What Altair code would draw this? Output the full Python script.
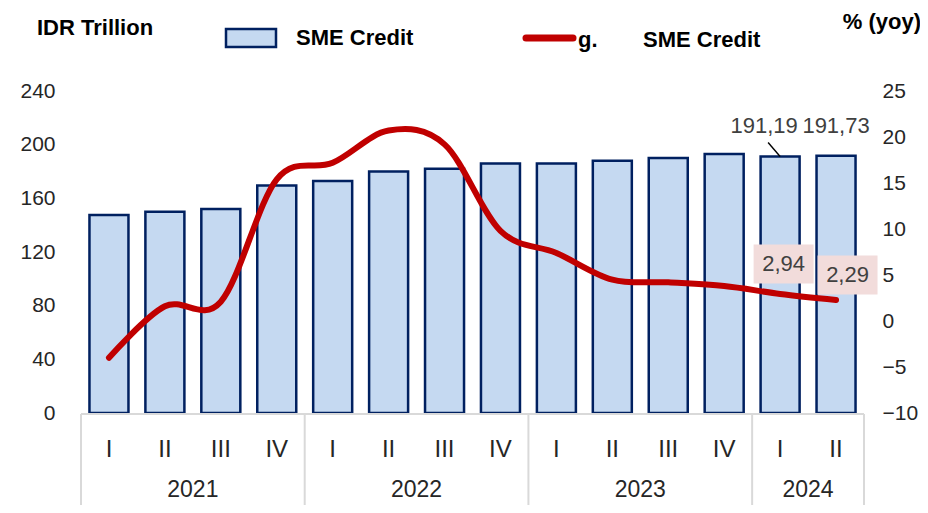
import altair as alt
import pandas as pd

# ---- data ----
years = ["2021"] * 4 + ["2022"] * 4 + ["2023"] * 4 + ["2024"] * 2
quarters = ["I", "II", "III", "IV"] * 3 + ["I", "II"]
sme_credit = [147.5, 150.0, 152.0, 169.5, 173.0, 180.0, 182.0, 186.0,
              186.0, 188.0, 190.0, 193.0, 191.19, 191.73]
growth = [-4.0, 1.6, 2.1, 15.4, 17.2, 20.7, 19.2, 9.8,
          7.4, 4.5, 4.2, 3.8, 2.94, 2.29]
left_ticks = [0, 40, 80, 120, 160, 200, 240]
right_ticks = [-10, -5, 0, 5, 10, 15, 20, 25]

FONT = "Liberation Sans"
TXT = "#262626"

df = pd.DataFrame({
    "idx": list(range(len(years))),
    "year": years,
    "quarter": quarters,
    "credit": sme_credit,
    "growth": growth,
})
df["credit_lbl"] = df["credit"].map(lambda v: f"{v:.2f}".replace(".", ","))
df["growth_lbl"] = df["growth"].map(lambda v: f"{v:.2f}".replace(".", ","))

# year boundaries for the category separators
first_idx = df.groupby("year", sort=False)["idx"].min().tolist()
bounds = [i - 0.5 for i in first_idx] + [df["idx"].max() + 0.5]
bounds_df = pd.DataFrame({"pos": bounds})
axis_df = pd.DataFrame({"lo": [df["idx"].min() - 0.5], "hi": [df["idx"].max() + 0.5]})

xscale = alt.Scale(domain=[-0.5, len(years) - 0.5], nice=False, zero=False)
yl_scale = alt.Scale(domain=[0, 240], nice=False, zero=False)
yr_scale = alt.Scale(domain=[-10, 25], nice=False, zero=False)
X = alt.X("idx:Q", scale=xscale, axis=None)

base = alt.Chart(df)

bars = base.mark_bar(width=39, fill="#C5D9F1", stroke="#002060", strokeWidth=2.5).encode(
    x=X,
    y=alt.Y("credit:Q", scale=yl_scale,
            axis=alt.Axis(orient="left", values=left_ticks, title=None, grid=False,
                          domain=False, ticks=False, labelPadding=21,
                          labelFont=FONT, labelFontSize=21, labelColor=TXT)),
)

leader = base.transform_filter(alt.datum.idx == 12).mark_rule(
    color="#000000", strokeWidth=1.4, xOffset=-12, yOffset=-14, x2Offset=0, y2Offset=0
).encode(
    x=X, x2="idx:Q",
    y=alt.Y("credit:Q", scale=yl_scale, axis=None), y2="credit:Q",
)

lbl_a = base.transform_filter(alt.datum.idx == 12).mark_text(
    font=FONT, fontSize=22, color="#404040", dx=-16, dy=-30, baseline="middle"
).encode(x=X, y=alt.Y("credit:Q", scale=yl_scale, axis=None), text="credit_lbl:N")

lbl_b = base.transform_filter(alt.datum.idx == 13).mark_text(
    font=FONT, fontSize=22, color="#404040", dx=0, dy=-30, baseline="middle"
).encode(x=X, y=alt.Y("credit:Q", scale=yl_scale, axis=None), text="credit_lbl:N")

line = base.mark_line(interpolate="cardinal", color="#C00000", strokeWidth=6,
                      strokeCap="round").encode(
    x=X,
    y=alt.Y("growth:Q", scale=yr_scale,
            axis=alt.Axis(orient="right", values=right_ticks, title=None, grid=False,
                          domain=False, ticks=False, labelPadding=13,
                          labelFont=FONT, labelFontSize=21, labelColor=TXT)),
)

BOX = "M-1,-0.65L1,-0.65L1,0.65L-1,0.65Z"
box_a = base.transform_filter(alt.datum.idx == 12).mark_point(
    shape=BOX, size=3600, filled=True, color="#F2DCDB", opacity=1, strokeWidth=0,
    xOffset=3.5, yOffset=-30
).encode(x=X, y=alt.Y("growth:Q", scale=yr_scale, axis=None))
box_b = base.transform_filter(alt.datum.idx == 13).mark_point(
    shape=BOX, size=3600, filled=True, color="#F2DCDB", opacity=1, strokeWidth=0,
    xOffset=11.5, yOffset=-25
).encode(x=X, y=alt.Y("growth:Q", scale=yr_scale, axis=None))
gl_a = base.transform_filter(alt.datum.idx == 12).mark_text(
    font=FONT, fontSize=22, color="#404040", dx=3.5, dy=-30, baseline="middle"
).encode(x=X, y=alt.Y("growth:Q", scale=yr_scale, axis=None), text="growth_lbl:N")
gl_b = base.transform_filter(alt.datum.idx == 13).mark_text(
    font=FONT, fontSize=22, color="#404040", dx=11.5, dy=-25, baseline="middle"
).encode(x=X, y=alt.Y("growth:Q", scale=yr_scale, axis=None), text="growth_lbl:N")

# category axis (two levels)
axis_line = alt.Chart(axis_df).mark_rule(color="#D9D9D9", strokeWidth=2).encode(
    x=alt.X("lo:Q", scale=xscale, axis=None), x2="hi:Q", y=alt.value(323)
)
seps = alt.Chart(bounds_df).mark_rule(color="#D9D9D9", strokeWidth=2).encode(
    x=alt.X("pos:Q", scale=xscale, axis=None), y=alt.value(323), y2=alt.value(414)
)
q_lbl = base.mark_text(font=FONT, fontSize=24, color=TXT, baseline="middle").encode(
    x=X, y=alt.value(359), text="quarter:N"
)
y_lbl = base.transform_aggregate(mid="mean(idx)", groupby=["year"]).mark_text(
    font=FONT, fontSize=23, color=TXT, baseline="middle"
).encode(x=alt.X("mid:Q", scale=xscale, axis=None), y=alt.value(399), text="year:N")

# legend / titles
def txt(s, x, y, align="left", size=22):
    return alt.Chart(pd.DataFrame({"t": [s]})).mark_text(
        font=FONT, fontSize=size, fontWeight="bold", color="#000000",
        align=align, baseline="middle"
    ).encode(x=alt.value(x), y=alt.value(y), text="t:N")

leg_rect = alt.Chart(pd.DataFrame({"t": ["SME Credit"]})).mark_rect(
    fill="#C5D9F1", stroke="#002060", strokeWidth=2.5
).encode(x=alt.value(150), x2=alt.value(200), y=alt.value(-62), y2=alt.value(-44))
leg_line = alt.Chart(pd.DataFrame({"t": ["g. SME Credit"]})).mark_rule(
    color="#C00000", strokeWidth=7, strokeCap="round"
).encode(x=alt.value(450), x2=alt.value(497), y=alt.value(-53))

chart = alt.layer(
    bars, leader, lbl_a, lbl_b, line, box_a, box_b, gl_a, gl_b,
    axis_line, seps, q_lbl, y_lbl,
    txt("IDR Trillion", -39, -63), leg_rect, txt("SME Credit", 220, -53),
    leg_line, txt("g.", 502, -51), txt("SME Credit", 567, -51),
    txt("% (yoy)", 845, -69, align="right"),
).resolve_scale(y="independent").properties(
    width=793, height=322,
    autosize=alt.AutoSizeParams(type="none"),
    padding={"left": 68, "top": 83, "right": 51, "bottom": 92},
).configure_view(stroke=None)

chart.save("out.html", embed_options={"renderer": "svg", "actions": False})
